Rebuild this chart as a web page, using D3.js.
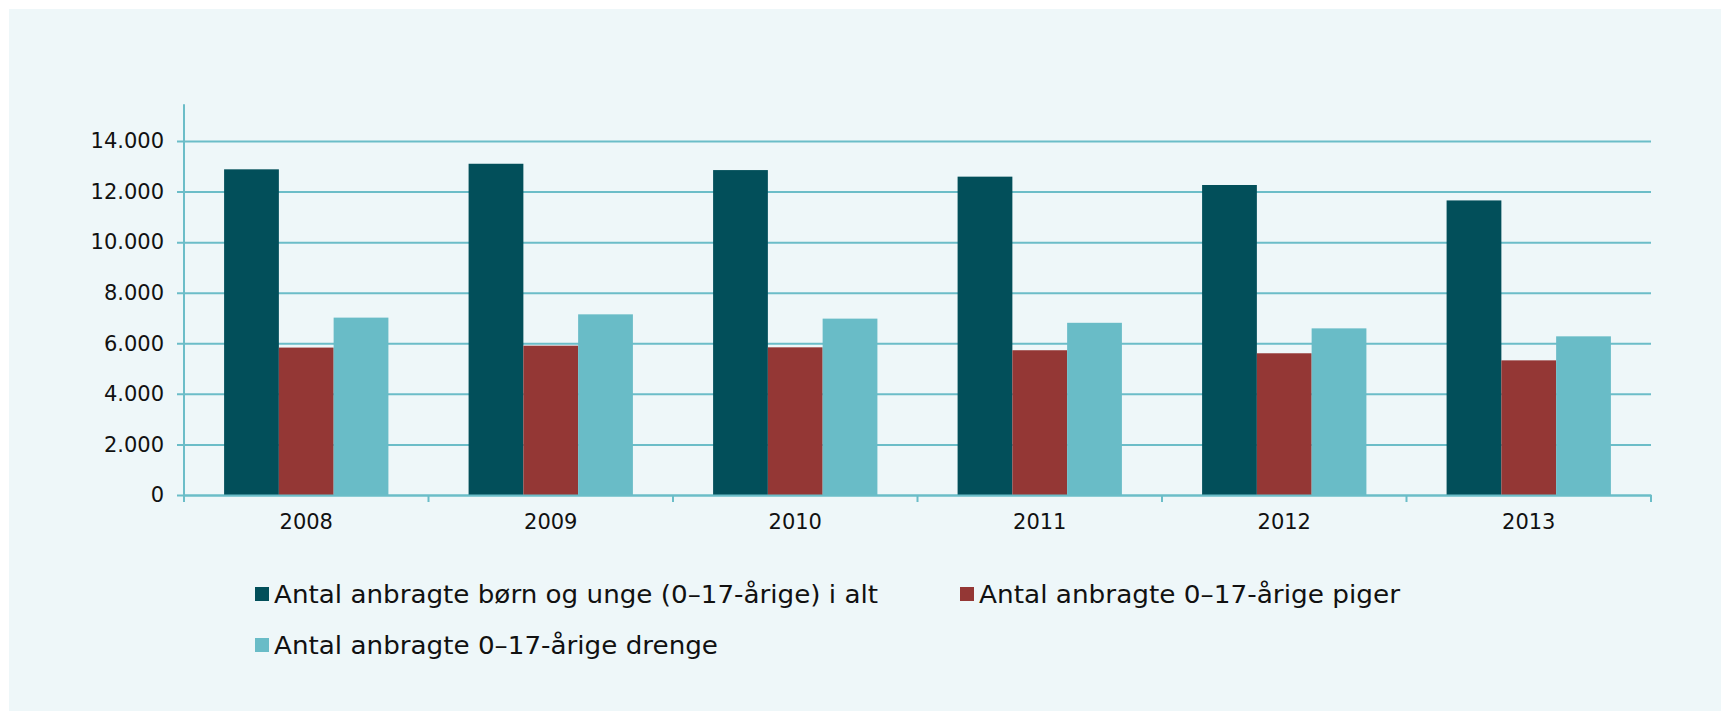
<!DOCTYPE html>
<html>
<head>
<meta charset="utf-8">
<script src="https://cdn.jsdelivr.net/npm/d3@7"></script>
<style>
  body { margin: 0; background: #ffffff; }
  svg { display: block; font-family: "DejaVu Sans", sans-serif; }
</style>
</head>
<body>
<script>
// data
var years = ["2008", "2009", "2010", "2011", "2012", "2013"];
var seriesNames = [
  "Antal anbragte børn og unge (0–17-årige) i alt",
  "Antal anbragte 0–17-årige piger",
  "Antal anbragte 0–17-årige drenge"
];
var total = [12880, 13100, 12850, 12590, 12260, 11650];
var girls = [5830, 5905, 5840, 5725, 5605, 5325];
var boys = [7015, 7145, 6975, 6810, 6590, 6275];
var yTicks = [0, 2000, 4000, 6000, 8000, 10000, 12000, 14000];
var colors = ["#024f5a", "#943735", "#69bcc7"];

var svgWidth = 1721;
var svgHeight = 720;

var margin = { top: 141, right: 70, bottom: 225, left: 184 };
var chartWidth = svgWidth - margin.left - margin.right;
var chartHeight = svgHeight - margin.top - margin.bottom;

var svg = d3.select("body")
  .append("svg")
  .attr("width", svgWidth)
  .attr("height", svgHeight);

// panel background
svg.append("rect")
  .attr("x", 9)
  .attr("y", 9)
  .attr("width", svgWidth - 9)
  .attr("height", 702)
  .attr("fill", "#eef7f9");

var chartGroup = svg.append("g")
  .attr("transform", `translate(${margin.left}, ${margin.top})`);

var seriesValues = [total, girls, boys];
var rows = years.map(function(y, i) {
  return { year: y, values: seriesValues.map(function(s) { return s[i]; }) };
});

// scales
var x0 = d3.scaleBand()
  .domain(years)
  .range([0, chartWidth])
  .padding(0);

var x1 = d3.scaleBand()
  .domain(d3.range(seriesNames.length))
  .range([x0.bandwidth() * 0.164, x0.bandwidth() * 0.836])
  .padding(0);

var yScale = d3.scaleLinear()
  .domain([0, 14000])
  .range([chartHeight, 0]);

var gridColor = "#6bbdc8";

// gridlines + y ticks
var yAxis = d3.axisLeft(yScale)
  .tickValues(yTicks)
  .tickSize(0)
  .tickFormat(function(d) { return d3.format(",")(d).replace(/,/g, "."); });

var yg = chartGroup.append("g")
  .call(yAxis)
  .attr("font-family", "DejaVu Sans, sans-serif")
  .attr("font-size", "21px");
yg.select(".domain").remove();
yg.selectAll(".tick line")
  .attr("x1", -7)
  .attr("x2", chartWidth)
  .attr("stroke", gridColor)
  .attr("stroke-width", 2);
yg.selectAll(".tick text")
  .attr("x", -20)
  .attr("fill", "#111");

// bars
var groups = chartGroup.selectAll(".yr")
  .data(rows)
  .enter()
  .append("g")
  .attr("class", "yr")
  .attr("transform", d => `translate(${x0(d.year)},0)`);

groups.selectAll("rect")
  .data(d => d.values.map((v, i) => ({ i: i, v: v })))
  .enter()
  .append("rect")
  .attr("x", d => x1(d.i))
  .attr("width", x1.bandwidth())
  .attr("y", d => yScale(d.v))
  .attr("height", d => chartHeight - yScale(d.v))
  .attr("fill", d => colors[d.i]);

// y axis line
chartGroup.append("line")
  .attr("x1", 0).attr("x2", 0)
  .attr("y1", yScale(15450))
  .attr("y2", chartHeight + 7)
  .attr("stroke", gridColor)
  .attr("stroke-width", 2);

// x axis
var xAxis = d3.axisBottom(x0).tickSize(0);
var xg = chartGroup.append("g")
  .attr("transform", `translate(0, ${chartHeight})`)
  .call(xAxis)
  .attr("font-family", "DejaVu Sans, sans-serif")
  .attr("font-size", "21px");
xg.select(".domain")
  .attr("stroke", gridColor)
  .attr("stroke-width", 2);
xg.selectAll(".tick text")
  .attr("y", 34)
  .attr("dy", 0)
  .attr("fill", "#111");

// ticks at band boundaries
var bounds = years.map(y => x0(y)).concat([chartWidth]);
chartGroup.selectAll(".xtick")
  .data(bounds)
  .enter()
  .append("line")
  .attr("x1", d => d).attr("x2", d => d)
  .attr("y1", chartHeight)
  .attr("y2", chartHeight + 7)
  .attr("stroke", gridColor)
  .attr("stroke-width", 2);

// legend
var legendPos = [
  { x: 255, y: 594, w: 604 },
  { x: 960, y: 594, w: 421 },
  { x: 255, y: 645, w: 444 }
];
var legend = svg.selectAll(".leg")
  .data(seriesNames)
  .enter()
  .append("g")
  .attr("class", "leg")
  .attr("transform", (d, i) => `translate(${legendPos[i].x}, ${legendPos[i].y})`);

legend.append("rect")
  .attr("x", 0)
  .attr("y", -7)
  .attr("width", 14)
  .attr("height", 14)
  .attr("fill", (d, i) => colors[i]);

legend.append("text")
  .attr("x", 19)
  .attr("y", 9)
  .attr("font-size", "25px")
  .attr("fill", "#111")
  .attr("textLength", (d, i) => legendPos[i].w)
  .attr("lengthAdjust", "spacingAndGlyphs")
  .text(d => d);
</script>
</body>
</html>
